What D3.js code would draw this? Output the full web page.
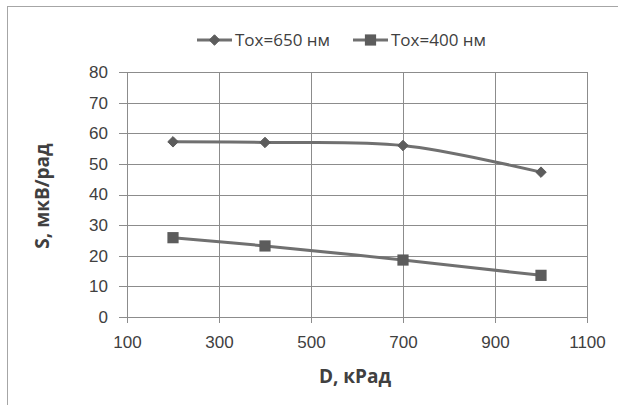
<!DOCTYPE html>
<html>
<head>
<meta charset="utf-8">
<script src="https://cdn.jsdelivr.net/npm/d3@7"></script>
<style>
  body { margin: 0; background: #fff; }
  svg { display: block; font-family: "Open Sans", sans-serif; }
  .tick text { fill: #404040; font-size: 17px; }
  .axisText { fill: #404040; font-size: 19px; font-weight: bold; }
</style>
</head>
<body>
<div id="chart"></div>
<script>
var svgWidth = 618;
var svgHeight = 405;

// data
var doses = [200, 400, 700, 1000];
var tox650 = [57.2, 57.0, 56.0, 47.3];
var tox400 = [25.9, 23.2, 18.6, 13.6];
var seriesNames = ["Tox=650 нм", "Tox=400 нм"];
var xTicks = [100, 300, 500, 700, 900, 1100];
var yTicks = [0, 10, 20, 30, 40, 50, 60, 70, 80];

var margin = { top: 72, left: 127 };
var width = 460;
var height = 245;

var svg = d3.select("#chart")
    .append("svg")
    .attr("width", svgWidth)
    .attr("height", svgHeight);

// chart frame (cut off on the right and bottom)
svg.append("rect")
    .attr("x", 7.5)
    .attr("y", 6.5)
    .attr("width", 700)
    .attr("height", 500)
    .attr("fill", "none")
    .attr("stroke", "#a6a6a6");

var chartGroup = svg.append("g")
    .attr("transform", `translate(${margin.left}, ${margin.top})`);

var xScale = d3.scaleLinear().domain([100, 1100]).range([0, width]);
var yScale = d3.scaleLinear().domain([0, 80]).range([height, 0]);

var gridColor = "#8c8c8c";

var yAxis = chartGroup.append("g")
    .call(d3.axisLeft(yScale).tickValues(yTicks).tickSize(-width - 8).tickPadding(11).tickSizeOuter(0))
    .attr("transform", "translate(-8,0)");
yAxis.select(".domain").remove();
yAxis.selectAll("line").attr("stroke", gridColor).attr("x1", 0).attr("x2", width + 8);

var xAxis = chartGroup.append("g")
    .attr("transform", `translate(0, ${height})`)
    .call(d3.axisBottom(xScale).tickValues(xTicks).tickFormat(d3.format("d"))
        .tickSize(6).tickPadding(13).tickSizeOuter(0));
xAxis.select(".domain").remove();
xAxis.selectAll("line").attr("stroke", gridColor).attr("y1", -height).attr("y2", 6);

chartGroup.selectAll(".tick line").attr("shape-rendering", "crispEdges");

var series = [tox650, tox400];
var lineColor = "#707070";
var markColor = "#5c5c5c";

var line = d3.line()
    .x((d, i) => xScale(doses[i]))
    .y(d => yScale(d))
    .curve(d3.curveCatmullRom.alpha(0.5));

function marker(s) {
    return s === 0 ? d3.symbol(d3.symbolDiamond2, 70)() : d3.symbol(d3.symbolSquare2, 160)();
}

series.forEach(function(vals, s) {
    chartGroup.append("path")
        .datum(vals)
        .attr("d", line)
        .attr("fill", "none")
        .attr("stroke", lineColor)
        .attr("stroke-width", 3);

    chartGroup.selectAll(".mark" + s)
        .data(vals)
        .enter()
        .append("path")
        .attr("transform", (d, i) => `translate(${xScale(doses[i])}, ${yScale(d)})`)
        .attr("d", marker(s))
        .attr("fill", markColor)
        .attr("stroke", markColor)
        .attr("stroke-width", s === 0 ? 1 : 0);
});

// legend
var legendX = [197, 353];
seriesNames.forEach(function(name, s) {
    var g = svg.append("g").attr("transform", `translate(${legendX[s]}, 40)`);
    g.append("line")
        .attr("x1", 0).attr("x2", 35)
        .attr("stroke", lineColor).attr("stroke-width", 3);
    g.append("path")
        .attr("transform", "translate(17.5,0)")
        .attr("d", marker(s))
        .attr("fill", markColor)
        .attr("stroke", markColor)
        .attr("stroke-width", s === 0 ? 1 : 0);
    g.append("text")
        .attr("x", 38)
        .attr("dy", "0.35em")
        .style("font-size", "17px")
        .style("fill", "#404040")
        .text(name);
});

// axis titles
svg.append("text")
    .attr("class", "axisText")
    .attr("transform", "translate(42, 196) rotate(-90)")
    .attr("text-anchor", "middle")
    .attr("dy", "0.35em")
    .text("S, мкВ/рад");

svg.append("text")
    .attr("class", "axisText")
    .attr("x", 355)
    .attr("y", 376)
    .attr("text-anchor", "middle")
    .attr("dy", "0.35em")
    .text("D, кРад");
</script>
</body>
</html>
